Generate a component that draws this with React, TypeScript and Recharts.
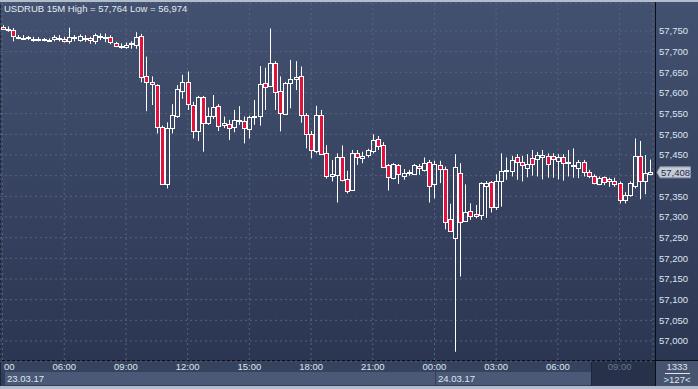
import React from 'react';
import { ComposedChart, Bar, XAxis, YAxis, CartesianGrid, ReferenceLine } from 'recharts';

// USDRUB 15M, first candle = 23.03.17 03:00
const opens = [
  57760, 57756, 57752, 57735, 57733, 57736, 57731, 57730, 57730, 57728, 57730, 57731, 57730, 57725, 57736, 57729,
  57732, 57733, 57726, 57737, 57736, 57736, 57722, 57714, 57712, 57719, 57717, 57738, 57641, 57626, 57619, 57517,
  57379, 57515, 57545, 57606, 57627, 57571, 57507, 57591, 57528, 57545, 57568, 57523, 57525, 57518, 57533, 57533,
  57512, 57541, 57544, 57623, 57618, 57672, 57605, 57550, 57623, 57634, 57640, 57547, 57500, 57460, 57547, 57454,
  57400, 57402, 57444, 57391, 57365, 57454, 57442, 57450, 57460, 57488, 57474, 57426, 57394, 57426, 57400, 57407,
  57403, 57424, 57414, 57432, 57379, 57426, 57416, 57294, 57248, 57406, 57290, 57315, 57307, 57305, 57376, 57384,
  57325, 57386, 57412, 57411, 57444, 57432, 57419, 57442, 57440, 57444, 57448, 57448, 57436, 57446, 57433, 57426,
  57419, 57432, 57410, 57399, 57379, 57396, 57391, 57387, 57382, 57340, 57352, 57376, 57448, 57386, 57404,
];
const highs = [
  57764, 57761, 57757, 57740, 57740, 57738, 57736, 57735, 57733, 57732, 57740, 57740, 57736, 57758, 57740, 57742,
  57740, 57736, 57744, 57744, 57744, 57740, 57724, 57720, 57722, 57725, 57747, 57743, 57688, 57640, 57621, 57521,
  57529, 57573, 57619, 57644, 57652, 57579, 57593, 57593, 57565, 57595, 57573, 57543, 57535, 57559, 57568, 57543,
  57545, 57583, 57665, 57661, 57756, 57677, 57640, 57627, 57680, 57677, 57664, 57551, 57508, 57569, 57559, 57474,
  57438, 57454, 57473, 57412, 57462, 57462, 57458, 57465, 57500, 57496, 57481, 57428, 57430, 57428, 57416, 57414,
  57428, 57428, 57444, 57438, 57436, 57436, 57422, 57332, 57452, 57430, 57379, 57333, 57329, 57384, 57387, 57387,
  57403, 57454, 57444, 57448, 57452, 57448, 57452, 57462, 57457, 57462, 57454, 57454, 57452, 57452, 57462, 57466,
  57438, 57438, 57414, 57403, 57398, 57398, 57395, 57395, 57386, 57360, 57386, 57490, 57484, 57450, 57439,
];
const lows = [
  57754, 57748, 57725, 57730, 57729, 57728, 57724, 57725, 57725, 57725, 57725, 57725, 57722, 57719, 57725, 57724,
  57724, 57719, 57718, 57728, 57723, 57718, 57711, 57707, 57707, 57707, 57707, 57626, 57556, 57571, 57502, 57379,
  57369, 57502, 57540, 57586, 57559, 57490, 57484, 57458, 57523, 57537, 57508, 57515, 57486, 57505, 57523, 57478,
  57490, 57523, 57521, 57559, 57615, 57559, 57507, 57547, 57563, 57607, 57528, 57466, 57442, 57454, 57450, 57393,
  57386, 57335, 57386, 57357, 57363, 57426, 57430, 57444, 57454, 57462, 57419, 57364, 57391, 57380, 57390, 57400,
  57402, 57402, 57410, 57335, 57345, 57382, 57270, 57265, 56974, 57156, 57289, 57293, 57297, 57293, 57298, 57311,
  57317, 57325, 57390, 57398, 57390, 57386, 57396, 57400, 57398, 57391, 57395, 57395, 57391, 57388, 57398, 57395,
  57394, 57398, 57394, 57379, 57377, 57377, 57373, 57373, 57333, 57333, 57349, 57369, 57343, 57355, 57401,
];
const closes = [
  57756, 57755, 57738, 57734, 57734, 57732, 57730, 57731, 57729, 57729, 57736, 57732, 57725, 57736, 57732, 57738,
  57733, 57728, 57741, 57738, 57735, 57723, 57714, 57713, 57717, 57720, 57735, 57638, 57626, 57621, 57517, 57381,
  57515, 57547, 57610, 57626, 57573, 57508, 57591, 57528, 57545, 57567, 57520, 57528, 57515, 57534, 57535, 57515,
  57541, 57545, 57621, 57615, 57672, 57603, 57551, 57623, 57633, 57638, 57547, 57500, 57462, 57547, 57452, 57399,
  57404, 57444, 57390, 57363, 57454, 57444, 57448, 57462, 57486, 57472, 57422, 57396, 57428, 57403, 57406, 57408,
  57426, 57418, 57430, 57376, 57428, 57415, 57289, 57266, 57420, 57289, 57311, 57303, 57302, 57382, 57382, 57323,
  57386, 57411, 57414, 57438, 57432, 57426, 57428, 57428, 57450, 57450, 57428, 57440, 57444, 57430, 57434, 57425,
  57432, 57410, 57398, 57382, 57395, 57384, 57386, 57379, 57340, 57353, 57382, 57448, 57387, 57406, 57408,
];

const priceTicks = [57000, 57050, 57100, 57150, 57200, 57250, 57300, 57350, 57400, 57450, 57500, 57550, 57600, 57650, 57700, 57750];
// first label (03:00) is cut by the left edge, only "00" shows
const timeTickLabels = ['00', '06:00', '09:00', '12:00', '15:00', '18:00', '21:00', '00:00', '03:00', '06:00', '09:00'];
const dayLabels = ['23.03.17', '24.03.17'];

const lastClose = closes[closes.length - 1];

const pad = (n: number) => (n < 10 ? '0' + n : '' + n);
const times = opens.map((_, i) => {
  const m = 3 * 60 + i * 15;
  const day = Math.floor(m / 1440);
  return `${day}|${pad(Math.floor((m % 1440) / 60))}:${pad(m % 60)}`;
});
const tickTimes = times.filter((_, i) => i % 12 === 0);

const data = opens.map((o, i) => ({
  t: times[i],
  open: o,
  high: highs[i],
  low: lows[i],
  close: closes[i],
  range: [lows[i], highs[i]],
}));

const FONT = '"Liberation Sans", Arial, sans-serif';
const LABEL = '#dfe5ef';

const Candle = (props: any) => {
  const { x, y, width, height, payload } = props;
  if (!payload || height == null) return null;
  const { open, close, high, low } = payload;
  const cx = Math.round(x + width / 2) + 0.5;
  const k = height / (high - low);
  const yo = y + (high - open) * k;
  const yc = y + (high - close) * k;
  let top = Math.round(Math.min(yo, yc)) + 0.5;
  let bot = Math.round(Math.max(yo, yc)) + 0.5;
  if (bot - top < 1) bot = top + 1;
  const up = close >= open;
  return (
    <g>
      <line x1={cx} x2={cx} y1={y} y2={top} stroke="#ffffff" strokeWidth={1} />
      <line x1={cx} x2={cx} y1={bot} y2={y + height} stroke="#ffffff" strokeWidth={1} />
      <rect x={cx - 2} y={top} width={4} height={bot - top} fill={up ? 'none' : '#e2123c'} stroke="#ffffff" strokeWidth={1} />
    </g>
  );
};

const PriceTick = (props: any) => {
  const { y, payload } = props;
  // the label under the current-price tag is covered by it
  if (Math.abs(payload.value - lastClose) < 20) return null;
  return (
    <text x={659} y={y} dy={3.5} fill={LABEL} fontSize={9.5} fontFamily={FONT}>
      {payload.value.toLocaleString('en-US')}
    </text>
  );
};

const TimeTick = (props: any) => {
  const { x, payload, index } = props;
  const label = timeTickLabels[index] ?? String(payload.value).split('|')[1];
  const dim = index === timeTickLabels.length - 1;
  if (index === 0) {
    return (
      <text x={4} y={370} fill={LABEL} fontSize={9.5} fontFamily={FONT}>
        {label}
      </text>
    );
  }
  return (
    <text x={x} y={370} textAnchor="middle" fill={dim ? '#69758f' : LABEL} fontSize={9.5} fontFamily={FONT}>
      {label}
    </text>
  );
};

const PriceTag = (props: any) => {
  const vb = props.viewBox || {};
  const y = vb.y;
  if (y == null) return null;
  const x0 = 657;
  return (
    <g>
      <path
        d={`M${x0} ${y} L${x0 + 3} ${y - 5.5} L690.5 ${y - 5.5} L690.5 ${y + 5.5} L${x0 + 3} ${y + 5.5} Z`}
        fill="#c5ccd8"
        stroke="#8d97aa"
        strokeWidth={1}
      />
      <text x={661} y={y} dy={3.5} fill="#1f2a44" fontSize={9.5} fontFamily={FONT}>
        {lastClose.toLocaleString('en-US')}
      </text>
    </g>
  );
};

const abs = (s: React.CSSProperties): React.CSSProperties => ({ position: 'absolute', ...s });

export default function App() {
  return (
    <div style={{ position: 'fixed', left: 0, top: 0, width: 698, height: 389, background: '#3a4764', overflow: 'hidden', fontFamily: FONT }}>
      {/* plot + price axis background */}
      <div style={abs({ left: 0, top: 2, width: 698, height: 359, background: 'linear-gradient(#435170, #2b3652)' })} />
      {/* time row */}
      <div style={abs({ left: 0, top: 361, width: 655, height: 11, background: '#36435f' })} />
      {/* date row */}
      <div style={abs({ left: 0, top: 372, width: 655, height: 14, background: '#323e59' })} />
      <div style={abs({ left: 5, top: 372, width: 430, height: 13, background: '#4b5977' })} />
      <div style={abs({ left: 436, top: 372, width: 155, height: 13, background: '#4b5977' })} />
      {/* dark region at the right end of the time scale */}
      <div style={abs({ left: 591, top: 361, width: 64, height: 25, background: '#27314a', borderLeft: '1px solid #1d2538' })} />
      {/* bottom-right box */}
      <div style={abs({ left: 656, top: 361, width: 42, height: 25, background: '#46546f' })} />
      <div style={abs({ left: 665, top: 373, width: 25, height: 1, background: '#dfe5ef' })} />
      {/* frame lines */}
      <div style={abs({ left: 0, top: 0, width: 698, height: 2, background: '#b3bccb' })} />
      <div style={abs({ left: 0, top: 386, width: 698, height: 3, background: '#b3bccb' })} />
      <div style={abs({ left: 0, top: 2, width: 1, height: 384, background: '#1e2638' })} />
      <div style={abs({ left: 0, top: 360, width: 698, height: 1, background: '#0b0e16' })} />
      <div style={abs({ left: 655, top: 2, width: 1, height: 384, background: '#0b0e16' })} />

      <div style={abs({ left: 0, top: 0 })}>
        <ComposedChart
          width={698}
          height={389}
          data={data}
          margin={{ top: 3, right: 0, bottom: 0, left: 0 }}
          barCategoryGap={0}
        >
          <CartesianGrid stroke="#56637f" strokeDasharray="2 3" />
          <XAxis
            dataKey="t"
            ticks={tickTimes}
            interval={0}
            height={28}
            axisLine={false}
            tickLine={false}
            tick={<TimeTick />}
          />
          <YAxis
            orientation="right"
            width={45}
            domain={[56951.6, 57817.7]}
            allowDataOverflow
            ticks={priceTicks}
            interval={0}
            axisLine={false}
            tickLine={false}
            tick={<PriceTick />}
          />
          <Bar dataKey="range" shape={<Candle />} isAnimationActive={false} />
          <ReferenceLine y={lastClose} stroke="none" ifOverflow="visible" label={<PriceTag />} />
        </ComposedChart>
      </div>

      <div style={abs({ left: 4, top: 2, fontSize: 9.5, lineHeight: '13px', color: '#e4e9f2', whiteSpace: 'nowrap' })}>
        USDRUB 15M High = 57,764 Low = 56,974
      </div>
      <div style={abs({ left: 7, top: 373, fontSize: 9.5, lineHeight: '12px', color: LABEL })}>{dayLabels[0]}</div>
      <div style={abs({ left: 438, top: 373, fontSize: 9.5, lineHeight: '12px', color: LABEL })}>{dayLabels[1]}</div>
      <div style={abs({ left: 656, top: 361, width: 42, textAlign: 'center', fontSize: 9.5, lineHeight: '12px', color: LABEL })}>1333</div>
      <div style={abs({ left: 656, top: 374, width: 42, textAlign: 'center', fontSize: 9.5, lineHeight: '12px', color: LABEL })}>&gt;127&lt;</div>
    </div>
  );
}
